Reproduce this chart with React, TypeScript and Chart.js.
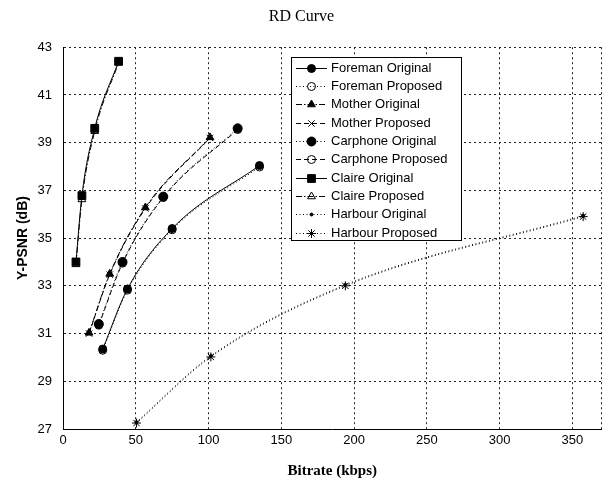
import React, { useEffect, useRef } from "react";
import { Chart, registerables } from "chart.js";

Chart.register(...registerables);

const xTickValues = [0, 50, 100, 150, 200, 250, 300, 350, 370];
const yTickValues = [27, 29, 31, 33, 35, 37, 39, 41, 43];

const foremanRate = [27.3, 44.3, 75, 135];
const foremanOriginal = [30.35, 32.87, 35.4, 38.04];
const foremanProposed = [30.3, 32.82, 35.35, 37.98];

const motherRate = [17.9, 32.1, 56.6, 101];
const motherOriginal = [31.03, 33.5, 36.28, 39.22];
const motherProposed = [31.0, 33.47, 36.24, 39.2];

const carphoneRate = [24.6, 40.9, 68.9, 120];
const carphoneOriginal = [31.4, 34.0, 36.74, 39.6];
const carphoneProposed = [31.35, 33.95, 36.7, 39.55];

const claireRate = [8.9, 13.0, 21.8, 38.2];
const claireOriginal = [34.0, 36.78, 39.6, 42.41];
const claireProposed = [33.9, 36.62, 39.48, 42.35];

const harbourRate = [50.5, 101.6, 194, 357.4];
const harbourOriginal = [27.29, 30.06, 33.04, 35.94];
const harbourProposed = [27.25, 30.02, 33.0, 35.9];

const seriesNames = [
  "Foreman Original",
  "Foreman Proposed",
  "Mother Original",
  "Mother Proposed",
  "Carphone Original",
  "Carphone Proposed",
  "Claire Original",
  "Claire Proposed",
  "Harbour Original",
  "Harbour Proposed",
];

const DOT = [1, 2.5];
const DASH = [5, 3];
const DASHDOT = [6, 2, 1.5, 2];
const SOLID: number[] = [];

function pts(xs: number[], ys: number[]) {
  return xs.map((x, i) => ({ x, y: ys[i] }));
}

type Style = {
  dash: number[];
  point: string;
  radius: number;
  filled: boolean;
};

const styles: Style[] = [
  { dash: SOLID, point: "circle", radius: 4, filled: true },
  { dash: DOT, point: "circle", radius: 4, filled: false },
  { dash: DASHDOT, point: "triangle", radius: 4.5, filled: true },
  { dash: DASH, point: "crossRot", radius: 4.5, filled: false },
  { dash: DOT, point: "circle", radius: 4.5, filled: true },
  { dash: DASH, point: "circle", radius: 4, filled: false },
  { dash: SOLID, point: "rect", radius: 5.5, filled: true },
  { dash: DASHDOT, point: "triangle", radius: 4.5, filled: false },
  { dash: DOT, point: "circle", radius: 1.5, filled: true },
  { dash: DOT, point: "star", radius: 4.5, filled: false },
];

function drawMarker(ctx: CanvasRenderingContext2D, s: Style, x: number, y: number) {
  const r = s.radius;
  ctx.save();
  ctx.setLineDash([]);
  ctx.strokeStyle = "#000";
  ctx.fillStyle = s.filled ? "#000" : "rgba(0,0,0,0)";
  ctx.lineWidth = 1;
  ctx.beginPath();
  if (s.point === "circle") {
    ctx.arc(x, y, r, 0, Math.PI * 2);
    ctx.fill();
    ctx.stroke();
  } else if (s.point === "rect") {
    const h = r * Math.SQRT1_2;
    ctx.rect(x - h, y - h, 2 * h, 2 * h);
    ctx.fill();
    ctx.stroke();
  } else if (s.point === "triangle") {
    const side = (3 * r) / Math.sqrt(3);
    const height = (side * Math.sqrt(3)) / 2;
    ctx.moveTo(x, y - (2 * height) / 3);
    ctx.lineTo(x + side / 2, y + height / 3);
    ctx.lineTo(x - side / 2, y + height / 3);
    ctx.closePath();
    ctx.fill();
    ctx.stroke();
  } else if (s.point === "crossRot") {
    const h = r * Math.SQRT1_2;
    ctx.moveTo(x - h, y - h);
    ctx.lineTo(x + h, y + h);
    ctx.moveTo(x - h, y + h);
    ctx.lineTo(x + h, y - h);
    ctx.stroke();
  } else if (s.point === "star") {
    const h = r * Math.SQRT1_2;
    ctx.moveTo(x - h, y - h);
    ctx.lineTo(x + h, y + h);
    ctx.moveTo(x - h, y + h);
    ctx.lineTo(x + h, y - h);
    ctx.moveTo(x, y - r);
    ctx.lineTo(x, y + r);
    ctx.moveTo(x - r, y);
    ctx.lineTo(x + r, y);
    ctx.stroke();
  }
  ctx.restore();
}

const legendPlugin = {
  id: "boxLegend",
  afterDraw(chart: any) {
    const ctx: CanvasRenderingContext2D = chart.ctx;
    const left = 291;
    const top = 57;
    const right = 461;
    const bottom = 240;
    ctx.save();
    ctx.fillStyle = "#fff";
    ctx.fillRect(left, top, right - left, bottom - top);
    ctx.strokeStyle = "#000";
    ctx.lineWidth = 1;
    ctx.setLineDash([]);
    ctx.strokeRect(left + 0.5, top + 0.5, right - left, bottom - top);
    chart.data.datasets.forEach((ds: any, i: number) => {
      const s = styles[i];
      const y = Math.round(67.7 + i * 18.33) + 0.5;
      ctx.save();
      ctx.strokeStyle = "#000";
      ctx.lineWidth = 1;
      ctx.setLineDash(s.dash);
      ctx.beginPath();
      ctx.moveTo(296, y);
      ctx.lineTo(327, y);
      ctx.stroke();
      ctx.restore();
      drawMarker(ctx, s, 311.5, y);
      ctx.fillStyle = "#000";
      ctx.font = "13px 'Liberation Sans', Arial, sans-serif";
      ctx.textAlign = "left";
      ctx.textBaseline = "middle";
      ctx.fillText(ds.label, 331, y);
    });
    ctx.restore();
  },
};

export default function App() {
  const ref = useRef<HTMLCanvasElement | null>(null);

  useEffect(() => {
    document.body.style.margin = "0";
    const canvas = ref.current;
    if (!canvas) return;

    const xs = [foremanRate, foremanRate, motherRate, motherRate, carphoneRate, carphoneRate, claireRate, claireRate, harbourRate, harbourRate];
    const ys = [foremanOriginal, foremanProposed, motherOriginal, motherProposed, carphoneOriginal, carphoneProposed, claireOriginal, claireProposed, harbourOriginal, harbourProposed];

    const datasets = seriesNames.map((name, i) => {
      const s = styles[i];
      return {
        label: name,
        data: pts(xs[i], ys[i]),
        borderColor: "#000",
        backgroundColor: s.filled ? "#000" : "rgba(0,0,0,0)",
        borderWidth: 1,
        borderDash: s.dash,
        pointStyle: s.point,
        pointRadius: s.radius,
        pointBorderColor: "#000",
        pointBackgroundColor: s.filled ? "#000" : "rgba(0,0,0,0)",
        pointBorderWidth: 1,
        cubicInterpolationMode: "monotone",
        showLine: true,
        fill: false,
      };
    });

    const gridStyle = {
      display: true,
      color: "#222",
      lineWidth: 1,
      drawTicks: false,
    };

    const chart = new Chart(canvas, {
      type: "scatter",
      data: { datasets: datasets as any },
      plugins: [legendPlugin],
      options: {
        animation: false,
        responsive: false,
        maintainAspectRatio: false,
        layout: { padding: { left: 0, right: 5, top: 0, bottom: 0 } },
        plugins: {
          legend: { display: false },
          tooltip: { enabled: false },
          title: {
            display: true,
            text: "RD Curve",
            color: "#000",
            font: { family: "'Liberation Serif', 'Times New Roman', serif", size: 16, weight: "normal" },
            padding: { top: 7, bottom: 21 },
          },
        },
        scales: {
          x: {
            type: "linear",
            min: 0,
            max: 370,
            afterBuildTicks: (scale: any) => {
              scale.ticks = xTickValues.map((v) => ({ value: v }));
            },
            afterFit: (scale: any) => {
              scale.height = 52;
            },
            grid: { ...gridStyle, borderDash: [2, 3] } as any,
            border: { display: true, color: "#000", width: 1, dash: [2, 3] } as any,
            ticks: {
              autoSkip: false,
              maxRotation: 0,
              padding: 4,
              color: "#000",
              font: { family: "'Liberation Sans', Arial, sans-serif", size: 13 },
              callback: (v: any) => (Number(v) % 50 === 0 ? String(v) : ""),
            },
            title: {
              display: true,
              text: "Bitrate (kbps)",
              color: "#000",
              font: { family: "'Liberation Serif', 'Times New Roman', serif", size: 15, weight: "bold" },
              padding: { top: 0, bottom: 1 },
            },
          },
          y: {
            type: "linear",
            min: 27,
            max: 43,
            afterBuildTicks: (scale: any) => {
              scale.ticks = yTickValues.map((v) => ({ value: v }));
            },
            afterFit: (scale: any) => {
              scale.width = 63;
            },
            grid: gridStyle as any,
            border: { display: true, color: "#000", width: 1, dash: [2, 3] } as any,
            ticks: {
              autoSkip: false,
              padding: 11,
              color: "#000",
              font: { family: "'Liberation Sans', Arial, sans-serif", size: 13 },
              callback: (v: any) => String(v),
            },
            title: {
              display: true,
              text: "Y-PSNR (dB)",
              color: "#000",
              font: { family: "'Liberation Sans', Arial, sans-serif", size: 14, weight: "bold" },
              padding: { top: 15, bottom: 0 },
            },
          },
        },
      } as any,
    });

    // Solid left and bottom axis lines, dotted grid
    const axisPlugin = {
      id: "axisLines",
    };
    void axisPlugin;

    return () => chart.destroy();
  }, []);

  return <canvas ref={ref} width={608} height={481} style={{ display: "block" }} />;
}
